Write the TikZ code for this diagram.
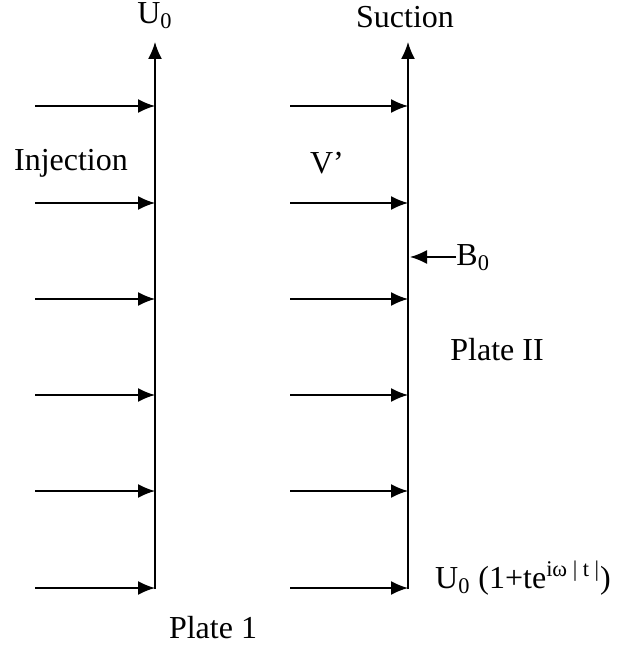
\documentclass[tikz,border=0pt]{standalone}
\usepackage{fontspec}
\setmainfont{Liberation Serif}
\usetikzlibrary{arrows.meta}

\tikzset{
  flow/.style={line width=0.8pt, -{Latex[length=8.5pt,width=7pt]}},
  lbl/.style={inner sep=0pt}
}

\begin{document}
\begin{tikzpicture}[x=0.5pt, y=-0.5pt, font=\fontsize{16}{19}\selectfont]
    \useasboundingbox (0,0) rectangle (638,646);

    % the two plates
    \coordinate (bot1) at (155,589);
    \coordinate (top1) at (155,42);
    \coordinate (bot2) at (408,589);
    \coordinate (top2) at (408,42);
    \draw[flow] (bot1) -- (top1);
    \draw[flow] (bot2) -- (top2);

    % injection / suction velocity
    \foreach \y [count=\i] in {106,203,299,395,491,588} {
        \coordinate (l\i) at (35,\y);
        \coordinate (pa\i) at (155,\y);
        \coordinate (r\i) at (290,\y);
        \coordinate (pb\i) at (408,\y);
        \draw[flow] (l\i) -- (pa\i);
        \draw[flow] (r\i) -- (pb\i);
    }

    \node[lbl] (u0) at (155,16) {U\textsubscript{0}};
    \node[lbl] (suction) at (405,17) {Suction};
    \node[lbl] (injection) at (71,163) {Injection};
    \node[lbl] (vprime) at (327,163) {V’};

    % magnetic field
    \node[lbl, anchor=west] (b0) at (456,258) {B\textsubscript{0}};
    \coordinate (b0tip) at (410,257);
    \draw[flow] (b0.west |- b0tip) -- (b0tip);

    \node[lbl] (plate2) at (497,350) {Plate II};
    \node[lbl] (u0osc) at (523,578) {U\textsubscript{0} (1+te\textsuperscript{iω | t |})};
    \node[lbl] (plate1) at (213,628) {Plate 1};
\end{tikzpicture}
\end{document}
